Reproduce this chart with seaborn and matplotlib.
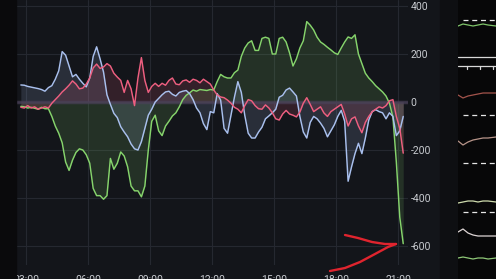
import numpy as np
import pandas as pd
import matplotlib
matplotlib.use("Agg")
import matplotlib.pyplot as plt
import matplotlib.transforms as mtrans
from matplotlib.lines import Line2D
from matplotlib.patches import Rectangle
import seaborn as sns

# ---------------- data ----------------
times = pd.date_range("2024-01-01 02:45", periods=112, freq="10min")
hours = np.asarray(times.hour + times.minute / 60.0, dtype=float)

green = [-18, -20, -25, -22, -26, -30, -22, -28, -28, -60,
         -100, -130, -170, -250, -285, -242, -210, -195, -200, -220,
         -255, -360, -390, -390, -405, -390, -235, -280, -255, -208,
         -225, -270, -350, -370, -370, -395, -350, -200, -80, -55,
         -120, -140, -100, -80, -58, -45, -20, 10, 28, 38,
         50, 45, 52, 50, 48, 52, 50, 85, 115, 105,
         100, 100, 122, 133, 190, 225, 246, 255, 215, 215,
         265, 270, 265, 200, 200, 265, 270, 250, 205, 150,
         180, 225, 255, 335, 320, 300, 270, 250, 240, 228,
         217, 205, 198, 225, 250, 271, 265, 280, 200, 160,
         120, 100, 85, 68, 55, 42, 25, -5, -62, -250,
         -480, -590]

blue = [71, 70, 65, 62, 59, 56, 52, 45, 60, 68,
        95, 130, 210, 195, 150, 105, 115, 95, 78, 63,
        100, 190, 230, 180, 125, 30, -10, -47, -65, -103,
        -125, -145, -175, -195, -200, -165, -110, -55, -30, 0,
        15, 30, 42, 45, 32, 25, 40, 45, 48, 35,
        10, -25, -45, -90, -115, -40, -45, 35, 8, -110,
        -130, -55, 20, 85, 40, -55, -130, -150, -150, -125,
        -105, -70, -58, -45, -30, 20, 28, 50, 58, 42,
        25, -60, -125, -150, -85, -60, -70, -88, -110, -145,
        -120, -95, -60, -35, -80, -330, -270, -215, -172, -215,
        -150, -75, -40, -32, -40, -45, -70, -45, -60, -140,
        -120, -60]

red = [-22, -25, -15, -25, -20, -30, -25, -20, -25, -5,
       10, 25, 42, 55, 70, 88, 75, 55, 58, 75,
       100, 142, 158, 140, 146, 160, 150, 120, 104, 90,
       40, 90, 55, -15, 100, 185, 90, 40, 65, 78,
       65, 78, 70, 90, 100, 75, 72, 88, 92, 82,
       95, 90, 80, 95, 85, 75, 50, 30, 21, 18,
       8, -5, -22, -30, -45, -15, 10, 5, -15, -28,
       -30, -12, -25, -45, -70, -75, -50, -35, -50, -55,
       -62, -42, -5, 18, -10, -40, -30, -20, -46, -60,
       -40, -30, -20, -10, -50, -100, -70, -62, -100, -128,
       -85, -60, -40, -30, -20, -25, -15, 5, 10, -60,
       -110, -213]

series_names = ["green", "blue", "red"]
series_values = [green, blue, red]

x_ticks = [3, 6, 9, 12, 15, 18, 21]
x_labels = ["03:00", "06:00", "09:00", "12:00", "15:00", "18:00", "21:00"]
y_ticks = [400, 200, 0, -200, -400, -600]
y_labels = ["400", "200", "0", "-200", "-400", "-600"]

# sidebar decoration (small lines of the neighbouring panel)
side_x = [0, 5, 10, 15, 20, 25, 30, 38]
side_lines = {
    "#7fc46a": [26, 24, 25, 26, 25, 24, 25, 26],
    "#d8d8d8": [57, 57, 57, 57, 57, 57, 57, 57],
    "#a4544c": [95, 98, 96, 95, 94, 93, 93, 93],
    "#b8958a": [141, 145, 142, 140, 139, 138, 138, 137],
    "#cfdcae": [203, 202, 201, 201, 202, 201, 201, 202],
    "#ddd4d4": [232, 229, 233, 235, 236, 236, 236, 236],
    "#8fc878": [258, 257, 258, 259, 258, 258, 259, 258],
}
side_dashes = [20, 115, 163, 212]
side_ticks_x = [9, 22, 35]

# ---------------- style ----------------
BG = "#13151a"
GRID = "#252830"
TXT = "#c8cbd0"
colors = {"green": "#86d46c", "blue": "#a9c0ee", "red": "#ee5f80"}

sns.set_theme(style="dark")
plt.rcParams["font.family"] = ["Roboto", "DejaVu Sans"]

W, H = 496, 279
fig = plt.figure(figsize=(W / 100, H / 100), dpi=100, facecolor=BG)
ax = fig.add_axes([16 / W, 14 / H, 392 / W, 265 / H])
ax.set_facecolor(BG)

df = pd.concat(
    [pd.DataFrame({"hour": hours, "value": v, "series": n})
     for n, v in zip(series_names, series_values)],
    ignore_index=True,
)

for n, v in zip(series_names, series_values):
    ax.fill_between(hours, v, 0, color=colors[n], alpha=0.15, lw=0, zorder=1)

ax.axhline(0, color="#4a4058", lw=2.5, alpha=0.7, zorder=1.5)

sns.lineplot(data=df, x="hour", y="value", hue="series", palette=colors,
             hue_order=series_names, linewidth=1.05, legend=False, ax=ax,
             zorder=3)

ax.set_xlim(2.516, 21.481)
ax.set_ylim(-679, 425)
ax.set_xticks(x_ticks)
ax.set_xticklabels(x_labels)
ax.set_yticks(y_ticks)
ax.set_yticklabels(y_labels)
ax.yaxis.tick_right()
ax.tick_params(axis="y", length=0, pad=2, labelsize=7.5, colors=TXT)
ax.tick_params(axis="x", length=0, pad=7, labelsize=7.5, colors=TXT)
ax.set_xlabel("")
ax.set_ylabel("")
for s in ax.spines.values():
    s.set_visible(False)
ax.grid(True, color=GRID, lw=0.8)
ax.set_axisbelow(True)

# frame strips
fig.add_artist(Rectangle((0, 0), 16 / W, 1, transform=fig.transFigure,
                         color="#0a0a0c", zorder=5))
fig.add_artist(Rectangle((440 / W, 0), 18 / W, 1, transform=fig.transFigure,
                         color="#0e0f12", zorder=5))

# sidebar
sx = fig.add_axes([458 / W, 0, 38 / W, 1])
sx.set_zorder(6)
sx.set_facecolor("#070708")
sx.set_xlim(0, 38)
sx.set_ylim(H, 0)
for c, ys in side_lines.items():
    sx.plot(side_x, ys, color=c, lw=0.9)
for yd in side_dashes:
    sx.plot([5, 38], [yd, yd], color="#e6e6e6", lw=0.9, dashes=(4, 3))
sx.plot([0, 38], [66, 66], color="#d8d8d8", lw=0.9)
for tx in side_ticks_x:
    sx.plot([tx, tx], [66, 69], color="#d8d8d8", lw=0.9)
for s in sx.spines.values():
    s.set_visible(False)
sx.set_xticks([])
sx.set_yticks([])

# hand-drawn red arrow annotation
px = mtrans.Affine2D().scale(1 / W, -1 / H).translate(0, 1) + fig.transFigure
upper = ([345, 358, 372, 385, 396], [235, 238, 242, 244, 244])
lower = ([330, 345, 360, 375, 388, 396], [271, 268, 262, 254, 247, 244])
for xs, ys in (upper, lower):
    fig.add_artist(Line2D(xs, ys, transform=px, color="#e0242e", lw=1.7,
                          solid_capstyle="round", zorder=8))

fig.savefig("out.png", dpi=100, facecolor=fig.get_facecolor())
